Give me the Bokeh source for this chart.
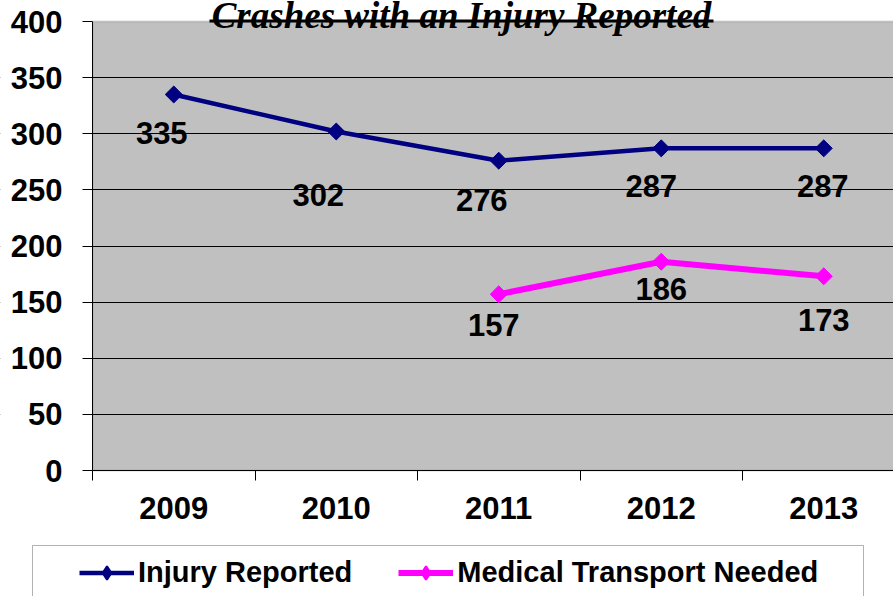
from bokeh.plotting import figure
from bokeh.models import (Range1d, FixedTicker, Legend, LegendItem, Label,
                          BoxAnnotation, ColumnDataSource)
from bokeh.core.properties import value
from bokeh.embed import file_html
from bokeh.resources import INLINE
from math import pi

# ---- data ----
title_text = "Crashes with an Injury Reported"
years = [2009, 2010, 2011, 2012, 2013]
injury = [335, 302, 276, 287, 287]
med_years = [2011, 2012, 2013]
medical = [157, 186, 173]
y_ticks = [0, 50, 100, 150, 200, 250, 300, 350, 400]
series_names = ["Injury Reported", "Medical Transport Needed"]

# ---- label offsets (style, screen px) ----
inj_dx = [-12, -18, -17, -10, -1]
inj_dy = [39, 63, 39, 38, 38]
med_dx = [-5, 0, 0]
med_dy = [31, 27, 44]

FONT = "Liberation Sans"
NAVY = "#000080"
MAGENTA = "#FF00FF"

W, H = 893, 596
PLOT_L, PLOT_T, PLOT_B = 92, 21, 470       # plot-area pixel edges
X_PX = 162.5                               # px per category
Y_PX = (PLOT_B - PLOT_T) / 400.0           # px per unit
X0 = years[0] - 0.5
X1 = years[-1] + 0.5

p = figure(width=W, height=H, output_backend="svg", toolbar_location=None,
           x_range=Range1d(X0 - PLOT_L / X_PX, X0 + (W - PLOT_L) / X_PX),
           y_range=Range1d(-(H - PLOT_B) / Y_PX, 400 + PLOT_T / Y_PX),
           min_border=0)
p.background_fill_color = "white"
p.border_fill_color = "white"
p.outline_line_color = None

# gray plot area with gray border (left/bottom hidden under the axes)
p.add_layout(BoxAnnotation(left=X0, right=X1, bottom=0, top=400,
                           fill_color="#C0C0C0", fill_alpha=1,
                           line_color="#808080", line_width=2, level="image"))

# grid (only across the plot area)
p.xgrid.visible = False
yg = p.ygrid[0]
yg.ticker = FixedTicker(ticks=y_ticks[1:-1])
yg.grid_line_color = "black"
yg.grid_line_width = 1
# white mask left of the plot area so grid lines stop at the y axis
p.add_layout(BoxAnnotation(right=X0 - 0.002, bottom=1, top=399,
                           fill_color="white", fill_alpha=1, line_color=None,
                           level="glyph"))

# y axis
ya = p.yaxis[0]
ya.fixed_location = X0
ya.bounds = (0, 400)
ya.ticker = FixedTicker(ticks=y_ticks)
ya.major_tick_out = 10
ya.major_tick_in = 0
ya.minor_tick_line_color = None
ya.axis_line_color = "black"
ya.major_tick_line_color = "black"
ya.major_label_standoff = 20
ya.major_label_text_font = FONT
ya.major_label_text_font_style = "bold"
ya.major_label_text_font_size = "31px"
ya.major_label_text_color = "black"

# x axis: labels at years, tick marks at category boundaries
xa = p.xaxis[0]
xa.fixed_location = 0
bounds = [y - 0.5 for y in years] + [X1]
xa.bounds = (X0, X1)
xa.ticker = FixedTicker(ticks=years, minor_ticks=bounds)
xa.major_tick_out = 0
xa.major_tick_in = 0
xa.minor_tick_out = 10
xa.minor_tick_in = 0
xa.minor_tick_line_color = "black"
xa.axis_line_color = "black"
xa.major_label_standoff = 16
xa.major_label_text_font = FONT
xa.major_label_text_font_style = "bold"
xa.major_label_text_font_size = "31px"
xa.major_label_text_color = "black"

# series
l1 = p.line(years, injury, line_color=NAVY, line_width=4.5)
p.scatter(years, injury, marker="square", angle=pi / 4, size=12,
          fill_color=NAVY, line_color=NAVY)
l2 = p.line(med_years, medical, line_color=MAGENTA, line_width=6)
p.scatter(med_years, medical, marker="square", angle=pi / 4, size=12,
          fill_color=MAGENTA, line_color=MAGENTA)
# diamond markers used only for the legend swatches
d1 = p.scatter(years, injury, marker="diamond", size=16, line_width=2,
               fill_color=NAVY, line_color=NAVY, visible=False)
d2 = p.scatter(med_years, medical, marker="diamond", size=16, line_width=2,
               fill_color=MAGENTA, line_color=MAGENTA, visible=False)

# data labels
src1 = ColumnDataSource(dict(x=years, y=injury, t=[str(v) for v in injury],
                             dx=inj_dx, dy=inj_dy))
src2 = ColumnDataSource(dict(x=med_years, y=medical, t=[str(v) for v in medical],
                             dx=med_dx, dy=med_dy))
for src in (src1, src2):
    p.text(x="x", y="y", text="t", x_offset="dx", y_offset="dy", source=src,
           text_align="center", text_baseline="middle",
           text_font=value(FONT), text_font_style="bold",
           text_font_size="31px", text_color="black")

# title (partly above the page top, as in the reference)
p.add_layout(Label(x=461, y=H - 15, x_units="screen", y_units="screen",
                   text=title_text, text_align="center",
                   text_baseline="alphabetic", text_font="Liberation Serif",
                   text_font_style="bold italic", text_font_size="37px",
                   text_color="black"))
# title underline
p.add_layout(BoxAnnotation(left=209, right=713, top=H - 19, bottom=H - 22,
                           left_units="screen", right_units="screen",
                           top_units="screen", bottom_units="screen",
                           fill_color="black", fill_alpha=1, line_color=None,
                           level="overlay"))

# legend box
p.add_layout(BoxAnnotation(left=32, right=863, top=H - 545, bottom=-20,
                           left_units="screen", right_units="screen",
                           top_units="screen", bottom_units="screen",
                           fill_alpha=0, line_color="black", line_width=1))

legend = Legend(items=[LegendItem(label=series_names[0], renderers=[l1, d1]),
                       LegendItem(label=series_names[1], renderers=[l2, d2])],
                location=(79, 7), orientation="horizontal",
                border_line_color=None, background_fill_alpha=0,
                inactive_fill_alpha=0,
                label_text_font=FONT, label_text_font_style="bold",
                label_text_font_size="29px", label_text_color="black",
                glyph_width=55, glyph_height=33, label_height=33,
                label_standoff=4, spacing=46, padding=0, margin=0)
p.add_layout(legend)

open("out.html", "w").write(file_html(p, INLINE))
